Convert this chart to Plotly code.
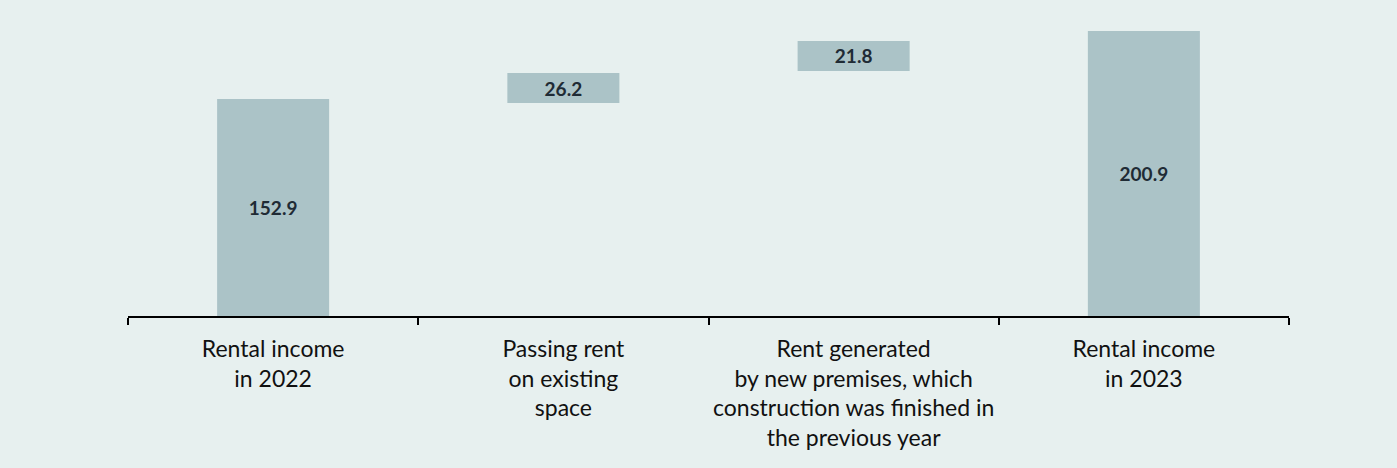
import plotly.graph_objects as go

categories = [
    "Rental income<br>in 2022",
    "Passing rent<br>on existing<br>space",
    "Rent generated<br>by new premises, which<br>construction was finished in<br>the previous year",
    "Rental income<br>in 2023",
]
value_labels = ["152.9", "26.2", "21.8", "200.9"]
# bar geometry as drawn in the picture (floating bars for the two steps)
bar_base = [0, 150.1, 172.7, 0]
bar_top = [152.9, 171.3, 193.9, 200.9]

heights = [t - b for t, b in zip(bar_top, bar_base)]

BG = "#E7F0EF"
BAR = "#ABC3C7"

fig = go.Figure(
    go.Bar(
        x=categories,
        y=heights,
        base=bar_base,
        marker=dict(color=BAR, line=dict(width=0)),
        text=value_labels,
        textposition="inside",
        insidetextanchor="middle",
        textangle=0,
        textfont=dict(family="Lato, sans-serif", size=19, color="#1F2B35", weight="bold"),
        hoverinfo="skip",
    )
)

fig.update_layout(
    width=1397,
    height=468,
    paper_bgcolor=BG,
    plot_bgcolor=BG,
    margin=dict(l=128, r=108, t=31, b=152, autoexpand=False),
    bargap=0.614,
    showlegend=False,
    font=dict(family="Lato, sans-serif", color="#111111"),
)
fig.update_xaxes(
    type="category",
    showline=True,
    linecolor="black",
    linewidth=2,
    ticks="outside",
    tickson="boundaries",
    ticklen=7,
    tickwidth=1.5,
    tickcolor="black",
    tickangle=0,
    automargin=False,
    ticklabelstandoff=11,
    tickfont=dict(family="Lato, sans-serif", size=23, color="#111111"),
    showgrid=False,
    zeroline=False,
)
fig.update_yaxes(visible=False, range=[0, 200.9], showgrid=False, zeroline=False)

fig.write_html("out.html")
